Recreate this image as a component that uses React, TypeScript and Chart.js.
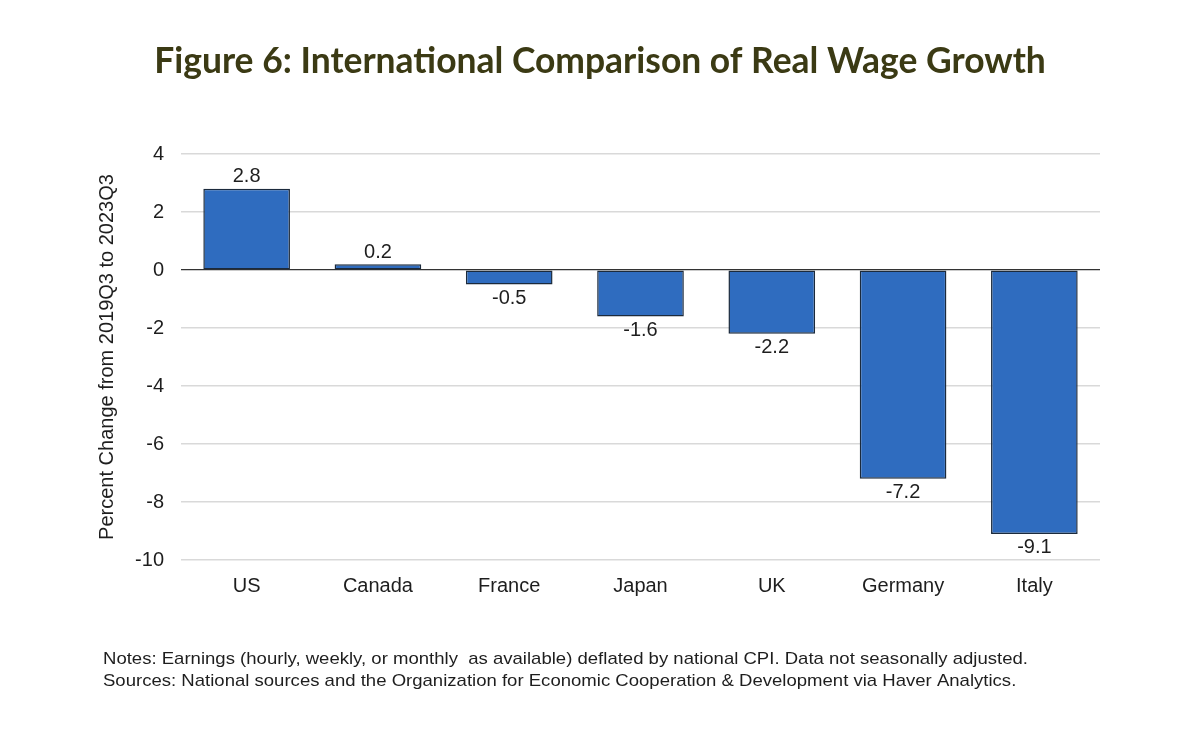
import React, { useEffect, useRef } from "react";
import { Chart, registerables } from "chart.js";

Chart.register(...registerables);

const countries = ["US", "Canada", "France", "Japan", "UK", "Germany", "Italy"];
const wageGrowth = [2.8, 0.2, -0.5, -1.6, -2.2, -7.2, -9.1];
const yTicks = [4, 2, 0, -2, -4, -6, -8, -10];

const titleText = "Figure 6: International Comparison of Real Wage Growth";
const yAxisTitle = "Percent Change from 2019Q3 to 2023Q3";
const noteLines = [
  "Notes: Earnings (hourly, weekly, or monthly  as available) deflated by national CPI. Data not seasonally adjusted.",
  "Sources: National sources and the Organization for Economic Cooperation & Development via Haver Analytics.",
];

const sansFont = "'Liberation Sans', Arial, sans-serif";

// title, data labels and notes drawn straight onto the canvas
const decorations = {
  id: "decorations",
  afterDatasetsDraw(chart: any) {
    const { ctx } = chart;
    const meta = chart.getDatasetMeta(0);
    ctx.save();
    ctx.fillStyle = "#1e1e1e";
    ctx.font = `20px ${sansFont}`;
    ctx.textAlign = "center";
    meta.data.forEach((bar: any, i: number) => {
      const v = wageGrowth[i];
      if (v >= 0) {
        ctx.textBaseline = "bottom";
        ctx.fillText(v.toFixed(1), bar.x, bar.y - 2);
      } else {
        ctx.textBaseline = "top";
        ctx.fillText(v.toFixed(1), bar.x, bar.y + 4);
      }
    });

    // title
    ctx.fillStyle = "#3b3a14";
    ctx.textBaseline = "middle";
    ctx.font = `bold 32px Lato, 'Open Sans', sans-serif`;
    const w = ctx.measureText(titleText).width;
    const size = (32 * 892) / w;
    ctx.font = `bold ${size}px Lato, 'Open Sans', sans-serif`;
    ctx.fillText(titleText, 600, 62);

    // notes, stretched a little to the reference width
    ctx.fillStyle = "#1e1e1e";
    ctx.textAlign = "left";
    ctx.font = `17px ${sansFont}`;
    const nw = ctx.measureText(noteLines[0]).width;
    const sx = 925 / nw;
    ctx.translate(103, 0);
    ctx.scale(sx, 1);
    ctx.fillText(noteLines[0], 0, 659);
    ctx.fillText(noteLines[1], 0, 681);
    ctx.restore();
  },
};

export default function App() {
  const canvasRef = useRef<HTMLCanvasElement | null>(null);
  const chartRef = useRef<Chart | null>(null);

  useEffect(() => {
    const ctx = canvasRef.current?.getContext("2d");
    if (!ctx) return;
    if (chartRef.current) chartRef.current.destroy();

    chartRef.current = new Chart(ctx, {
      type: "bar",
      data: {
        labels: countries,
        datasets: [
          {
            data: wageGrowth,
            backgroundColor: "#2f6cbf",
            borderColor: "#1b2a3c",
            borderWidth: 1.5,
            borderSkipped: false,
            categoryPercentage: 1,
            barPercentage: 0.66,
          },
        ],
      },
      options: {
        animation: false,
        responsive: false,
        devicePixelRatio: 1,
        layout: { padding: { left: 95, right: 100, top: 154, bottom: 130 } },
        plugins: {
          legend: { display: false },
          title: { display: false },
          tooltip: { enabled: false },
        },
        scales: {
          x: {
            grid: { display: false },
            border: { display: false },
            ticks: {
              color: "#1e1e1e",
              font: { family: sansFont, size: 20 },
              padding: 6,
            },
            afterFit: (scale: any) => {
              scale.height = 45;
            },
          },
          y: {
            min: -10,
            max: 4,
            afterBuildTicks: (scale: any) => {
              scale.ticks = yTicks.map((v) => ({ value: v }));
            },
            grid: {
              color: (c: any) => (c.tick && c.tick.value === 0 ? "#333333" : "#d9d9d9"),
              lineWidth: (c: any) => (c.tick && c.tick.value === 0 ? 1.2 : 1.5),
              drawTicks: false,
            },
            border: { display: false },
            ticks: {
              color: "#1e1e1e",
              font: { family: sansFont, size: 20 },
              padding: 17,
            },
            title: {
              display: true,
              text: yAxisTitle,
              color: "#1e1e1e",
              font: { family: sansFont, size: 20 },
              padding: 0,
            },
            afterFit: (scale: any) => {
              scale.width = 86;
            },
          },
        },
      },
      plugins: [decorations],
    });

    return () => {
      if (chartRef.current) {
        chartRef.current.destroy();
        chartRef.current = null;
      }
    };
  }, []);

  return (
    <div style={{ position: "fixed", left: 0, top: 0, width: 1200, height: 735, background: "#fff" }}>
      <canvas ref={canvasRef} width={1200} height={735} />
    </div>
  );
}
